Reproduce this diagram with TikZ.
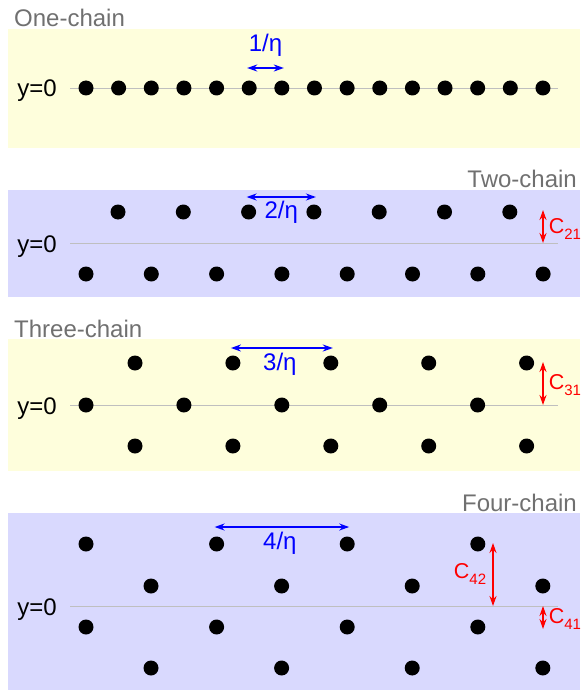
\documentclass[tikz,border=0pt]{standalone}
\usepackage{fontspec}
\setmainfont{Liberation Sans}
\usetikzlibrary{arrows.meta}
\definecolor{paleyellow}{HTML}{FEFEDC}
\definecolor{paleblue}{HTML}{D9D9FE}
\definecolor{titlegray}{HTML}{707070}
\newcommand{\lowidx}[1]{\raisebox{-0.3em}{\fontsize{15}{15}\selectfont #1}}

\begin{document}
\begin{tikzpicture}[x=1pt, y=-1pt,
    dot/.style={circle, fill=black, inner sep=0pt, minimum size=15pt},
    axis/.style={gray!50, line width=0.8pt},
    title/.style={text=titlegray, inner sep=0pt, font=\fontsize{24}{28}\selectfont},
    lbl/.style={inner sep=0pt, font=\fontsize{24}{28}\selectfont},
    clbl/.style={red, inner sep=0pt, font=\fontsize{21.5}{26}\selectfont},
    dist/.style={<->, blue, line width=1.7pt, >={Stealth[length=10pt,width=7pt]}, shorten <=-2pt, shorten >=-2pt},
    gap/.style={<->, red, line width=1.7pt, >={Stealth[length=10pt,width=7pt]}}
]
\useasboundingbox (0,0) rectangle (582,690);
% panels
\fill[paleyellow] (8,29) rectangle (580,148);
\fill[paleblue] (8,190) rectangle (580,297);
\fill[paleyellow] (8,339) rectangle (580,471);
\fill[paleblue] (8,513) rectangle (580,690);

\node[title, anchor=base west] (t1) at (14,27) {One-chain};
\node[title, anchor=base east] (t2) at (577,187) {Two-chain};
\node[title, anchor=base west] (t3) at (14,337) {Three-chain};
\node[title, anchor=base east] (t4) at (577,511) {Four-chain};

% y=0 lines
\foreach \n/\y in {1/88, 2/243, 3/405, 4/606} {
    \draw[axis] (70,\y) -- (558,\y);
    \node[lbl, anchor=base east] (y\n) at (57,\y+9) {y=0};
}

% one-chain
\foreach \i in {0,...,14}
    \node[dot] (p1d\i) at ({86+32.64*\i},88) {};
\draw[dist] (p1d5 |- 0,68) -- node[lbl, text=blue, anchor=base, yshift=16pt] (e1) {1/η} (p1d6 |- 0,68);

% two-chain
\foreach \i in {0,...,6}
    \node[dot] (p2t\i) at ({118+65.3*\i},212) {};
\foreach \i in {0,...,7}
    \node[dot] (p2b\i) at ({86+65.3*\i},274) {};
\draw[dist] (p2t2 |- 0,197) -- node[lbl, text=blue, anchor=base, yshift=-21pt] (e2) {2/η} (p2t3 |- 0,197);
\coordinate (c21a) at (543,210);
\coordinate (c21b) at (543,243);
\draw[gap] (c21a) -- node[clbl, anchor=base west, xshift=5pt, yshift=-6.5pt] (l21) {C\lowidx{21}} (c21b);

% three-chain
\foreach \i in {0,...,4} {
    \node[dot] (p3t\i) at ({135+97.9*\i},363) {};
    \node[dot] (p3m\i) at ({86+97.9*\i},405) {};
    \node[dot] (p3b\i) at ({135+97.9*\i},446) {};
}
\draw[dist] (p3t1 |- 0,348) -- node[lbl, text=blue, anchor=base, yshift=-22pt, xshift=-2pt] (e3) {3/η} (p3t2 |- 0,348);
\coordinate (c31a) at (543,362);
\coordinate (c31b) at (543,405);
\draw[gap] (c31a) -- node[clbl, anchor=base west, xshift=5pt, yshift=-5.5pt] (l31) {C\lowidx{31}} (c31b);

% four-chain
\foreach \i in {0,...,3} {
    \node[dot] (p4a\i) at ({86+130.6*\i},544) {};
    \node[dot] (p4b\i) at ({151+130.6*\i},586) {};
    \node[dot] (p4c\i) at ({86+130.6*\i},627) {};
    \node[dot] (p4d\i) at ({151+130.6*\i},668) {};
}
\draw[dist] (p4a1 |- 0,527) -- node[lbl, text=blue, anchor=base, yshift=-22pt, xshift=-2pt] (e4) {4/η} (p4a2 |- 0,527);
\coordinate (c42a) at (493,543);
\coordinate (c42b) at (493,606);
\draw[gap] (c42a) -- node[clbl, anchor=base east, xshift=-6pt, yshift=-3.5pt] (l42) {C\lowidx{42}} (c42b);
\coordinate (c41a) at (543,606);
\coordinate (c41b) at (543,629);
\draw[gap] (c41a) -- node[clbl, anchor=base west, xshift=5pt, yshift=-5.5pt] (l41) {C\lowidx{41}} (c41b);
\end{tikzpicture}
\end{document}
